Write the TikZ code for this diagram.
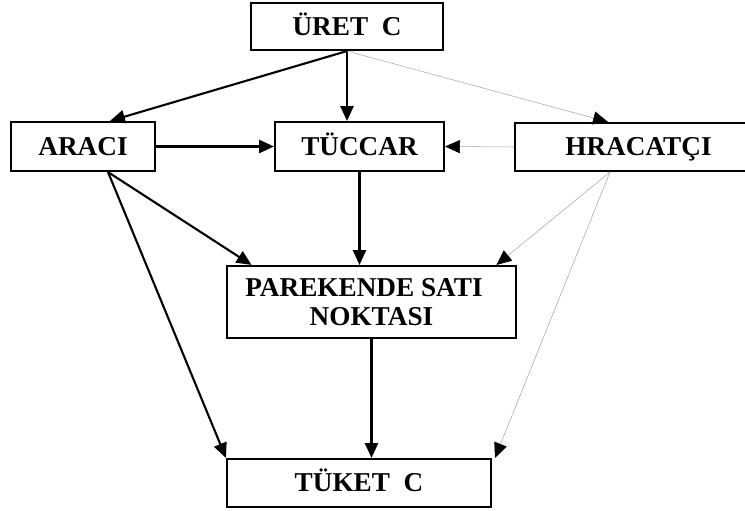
\documentclass[tikz,border=0pt]{standalone}
\usepackage{fontspec}
\setmainfont{Liberation Serif}
\usetikzlibrary{arrows.meta}
\usetikzlibrary{calc}

\tikzset{
  kutu/.style={draw, line width=1.2pt, font=\fontsize{15.5}{16.5}\selectfont\bfseries, inner sep=0pt, align=center, text height=10pt, text depth=0pt},
  ok/.style={line width=1.2pt, -{Triangle[length=8.5pt,width=7.5pt]}},
  griok/.style={line width=0.3pt, draw=black!35, -{Triangle[length=8.5pt,width=7.5pt,fill=black,color=black]}}
}

\begin{document}
\begin{tikzpicture}[x=0.02cm, y=-0.02cm]
\useasboundingbox (0,0) rectangle (745,511);
\node[kutu, minimum width=3.84cm, minimum height=0.94cm] (uretici) at (347,26.5) {ÜRET~ C};
\node[kutu, minimum width=2.88cm, minimum height=0.98cm] (araci) at (83,146.5) {ARACI};
\node[kutu, minimum width=3.38cm, minimum height=0.98cm] (tuccar) at (359.5,146.5) {TÜCCAR};
\node[kutu, minimum width=4.64cm, minimum height=0.96cm] (ihracatci) at (631,147) {\hspace*{0.3cm}HRACATÇI};
\node[kutu, minimum width=5.78cm, minimum height=1.44cm, text height=26.5pt] (perakende) at (371.5,302) {PAREKENDE SATI\hspace*{0.3cm}\\NOKTASI};
\node[kutu, minimum width=5.28cm, minimum height=0.96cm] (tuketici) at (359,483) {TÜKET~ C};
% siyah oklar
\draw[ok] (uretici.south) -- ([xshift=0.54cm]araci.north);
\draw[ok] (uretici.south) -- (uretici.south |- tuccar.north);
\draw[ok] (araci.east) -- (tuccar.west);
\draw[ok] (tuccar.south) -- (tuccar.south |- perakende.north);
\draw[ok] ([xshift=0.5cm]araci.south) -- ([xshift=-2.4cm]perakende.north);
\draw[ok] ([xshift=0.5cm]araci.south) -- (tuketici.north west);
\draw[ok] (perakende.south) -- (perakende.south |- tuketici.north);
% gri oklar
\draw[griok] (uretici.south) -- ([xshift=-0.46cm]ihracatci.north);
\draw[griok] (ihracatci.west) -- (tuccar.east);
\draw[griok] ([xshift=-0.42cm]ihracatci.south) -- ([xshift=2.5cm]perakende.north);
\draw[griok] ([xshift=-0.42cm]ihracatci.south) -- ([xshift=2.72cm]tuketici.north);
\end{tikzpicture}
\end{document}
